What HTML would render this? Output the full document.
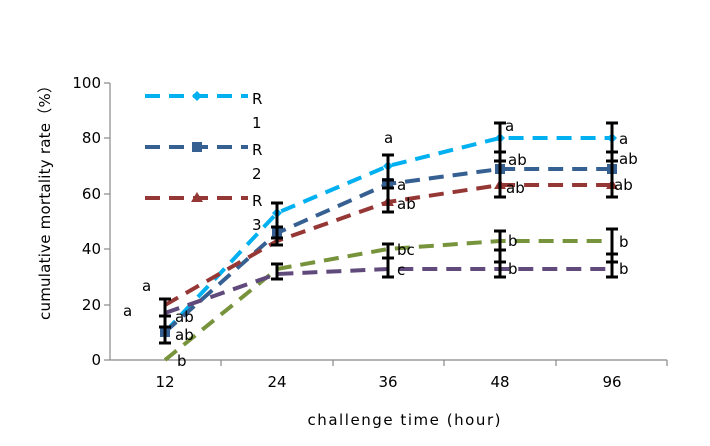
<!DOCTYPE html><html><head><style>body{margin:0;background:#fff}svg{font-family:"DejaVu Sans","Liberation Sans",sans-serif}</style></head><body>
<svg width="710" height="441" viewBox="0 0 710 441">
<g stroke="#888" stroke-width="1.2" fill="none">
<line x1="110" y1="83" x2="110" y2="360"/><line x1="110" y1="360" x2="667" y2="360"/>
<line x1="104" y1="83" x2="110" y2="83"/><line x1="104" y1="138" x2="110" y2="138"/><line x1="104" y1="194" x2="110" y2="194"/><line x1="104" y1="249" x2="110" y2="249"/><line x1="104" y1="305" x2="110" y2="305"/><line x1="104" y1="360" x2="110" y2="360"/>
<line x1="221" y1="360" x2="221" y2="366"/><line x1="333" y1="360" x2="333" y2="366"/><line x1="444" y1="360" x2="444" y2="366"/><line x1="556" y1="360" x2="556" y2="366"/><line x1="667" y1="360" x2="667" y2="366"/>
</g>
<g font-size="15" fill="#000" text-anchor="end">
<text x="101" y="88">100</text><text x="101" y="143">80</text><text x="101" y="199">60</text><text x="101" y="254">40</text><text x="101" y="310">20</text><text x="101" y="365">0</text></g>
<g font-size="15" text-anchor="middle"><text x="165" y="387">12</text><text x="277" y="387">24</text><text x="388" y="387">36</text><text x="500" y="387">48</text><text x="612" y="387">96</text>
<text x="404" y="425" textLength="193" lengthAdjust="spacing">challenge time (hour)</text>
<text transform="translate(50,199) rotate(-90)" textLength="242" lengthAdjust="spacing">cumulative mortality rate（%）</text></g>
<g fill="none" stroke-width="4" stroke-dasharray="15,9">
<polyline stroke="#00B0F0" points="165,332 277,213 388,166 500,138 612,138"/>
<polyline stroke="#366092" points="165,332 277,233 388,184 500,169 612,169"/>
<polyline stroke="#953735" points="165,305 277,241 388,202 500,185 612,185"/>
<polyline stroke="#77933C" points="165,360 277,269 388,249 500,241 612,241"/>
<polyline stroke="#604A7B" points="165,313 277,274 388,269 500,269 612,269"/>
<line stroke="#00B0F0" x1="145" y1="96" x2="248" y2="96"/>
<line stroke="#366092" x1="145" y1="147" x2="248" y2="147"/>
<line stroke="#953735" x1="145" y1="198" x2="248" y2="198"/>
</g>
<g>
<path d="M197,91 l5,5 -5,5 -5,-5z" fill="#00B0F0"/>
<rect x="192" y="142" width="10" height="10" fill="#366092"/>
<path d="M197,192 l6,10 h-12z" fill="#953735"/>
<path d="M388,161 l5,5 -5,5 -5,-5z M500,133 l5,5 -5,5 -5,-5z M612,133 l5,5 -5,5 -5,-5z M277,208 l5,5 -5,5 -5,-5z" fill="#00B0F0"/>
<rect x="382" y="178" width="11" height="11" fill="#366092"/><rect x="495" y="164" width="10" height="10" fill="#366092"/><rect x="607" y="164" width="10" height="10" fill="#366092"/><rect x="272" y="228" width="10" height="10" fill="#366092"/><rect x="160" y="327" width="10" height="10" fill="#366092"/>
<path d="M388,196 l6,10 h-12z M500,179 l6,10 h-12z M612,179 l6,10 h-12z" fill="#953735"/>
</g>
<g stroke="#000" stroke-width="3" fill="none">
<path d="M165,299V343 M159,299h12 M159,343h12 M159,316h12 M159,327h12"/>
<path d="M277,203V245 M271,203h12 M271,245h12 M271,227h12 M271,238h12 M277,264V279 M271,264h12 M271,279h12"/>
<path d="M388,155V212 M382,155h12 M382,212h12 M382,180h12 M382,188h12 M388,244V277 M382,244h12 M382,277h12 M382,258h12"/>
<path d="M500,123V197 M494,123h12 M494,152h12 M494,197h12 M494,161h12 M500,231V277 M494,231h12 M494,250h12 M494,262h12 M494,277h12"/>
<path d="M612,123V197 M606,123h12 M606,152h12 M606,197h12 M606,161h12 M612,229V277 M606,229h12 M606,254h12 M606,262h12 M606,277h12"/>
</g>
<g font-size="15" fill="#000">
<text x="252" y="104">R</text><text x="252" y="128">1</text>
<text x="252" y="155">R</text><text x="252" y="179">2</text>
<text x="252" y="206">R</text><text x="252" y="230">3</text>
<text x="142" y="291">a</text><text x="123" y="316">a</text><text x="175" y="322">ab</text><text x="175" y="340">ab</text><text x="177" y="366">b</text>
<text x="384" y="143">a</text><text x="397" y="190">a</text><text x="397" y="209">ab</text><text x="397" y="255">bc</text><text x="397" y="275">c</text>
<text x="505" y="131">a</text><text x="508" y="165">ab</text><text x="506" y="193">ab</text><text x="508" y="246">b</text><text x="508" y="274">b</text>
<text x="619" y="144">a</text><text x="619" y="164">ab</text><text x="614" y="190">ab</text><text x="619" y="247">b</text><text x="619" y="274">b</text>
</g>
</svg></body></html>
